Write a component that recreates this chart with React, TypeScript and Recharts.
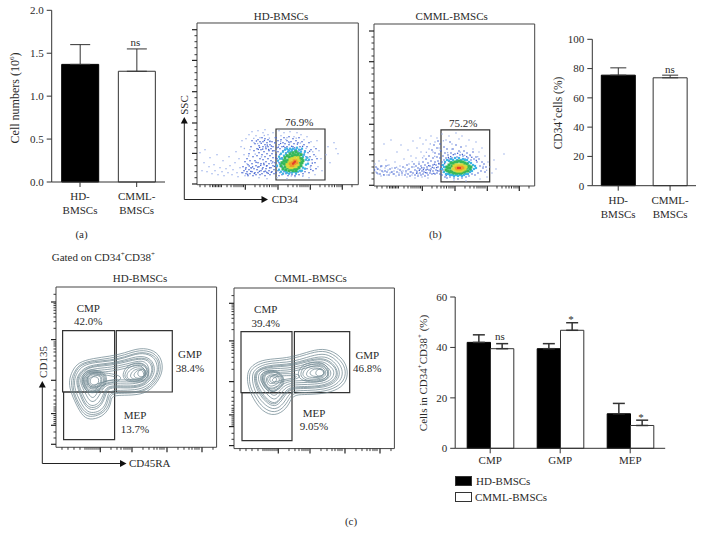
import { Bar, BarChart, Cell, ComposedChart, ErrorBar, Legend, Line, ReferenceArea, Scatter, XAxis, YAxis } from 'recharts';
import type { ReactNode } from 'react';

const FONT = '"Liberation Serif", serif';
const INK = '#2a2a2a';

// bar panels
const cohorts = ['HD-\nBMSCs', 'CMML-\nBMSCs'];
const cellNumbers = [1.37, 1.29];
const cellNumbersErr = [0.23, 0.26];
const cd34Percent = [75.5, 73.7];
const cd34PercentErr = [5, 1.8];
const subsets = ['CMP', 'GMP', 'MEP'];
const hdSubsets = [42, 39.5, 13.7];
const hdSubsetsErr = [3, 2, 4.1];
const cmmlSubsets = [39.5, 46.8, 9.05];
const cmmlSubsetsErr = [2, 3, 2.1];
const legendNames = ['HD-BMSCs', 'CMML-BMSCs'];

// flow axis ticks (channel units, measured from the plot corner)
const ssTicksMajor = [0.7, 31.3, 61.7, 93, 124.3, 155];
const ssTicksMinor = [7, 13, 19, 25, 37, 43, 49, 55, 68, 74, 80, 87, 99, 105, 112, 118, 130, 137, 143, 149];
const cd34TicksMajor = [48.3, 81, 113.3, 145.3];
const cd34TicksMinor = [3, 8, 13, 15.5, 17, 18.5, 20, 21.5, 23, 24.5, 30, 34, 37, 39, 41, 43, 45, 46.5, 58, 63, 67, 70, 72.5, 75, 77, 79, 91, 96, 100, 103, 105, 107, 109, 111, 123, 128, 132, 135, 137.5, 140, 142, 144, 155];
const cd135TicksMajor = [3, 22, 33.7, 67, 107.7, 145.3];
const cd135TicksMinor = [9.3, 15.3, 23.7, 25.7, 27.7, 29.7, 31.7, 36.3, 38.3, 40.3, 43.3, 47.3, 51.3, 57.3, 79.3, 86.3, 91.3, 95.3, 98.3, 101.3, 103.3, 105.3, 119, 125.6, 130.3, 134, 137, 139.5, 141.7, 143.6, 153];
const cd45TicksMajor = [44.3, 76, 111, 146];
const cd45TicksMinor = [6, 12, 18, 24, 29, 31, 33, 35, 37, 39, 41, 43, 55, 61, 65, 68, 70, 72, 74, 87, 93, 98, 101, 104, 106, 108, 122, 128, 133, 136, 139, 141, 143, 157];

type Pt = [number, number];

// HD CD34 dot plot, by density colour
const hdPale: Pt[] = [[3,32],[5,14],[7,22],[8,35],[10,13],[12,18],[13,27],[15,11],[17,20],[18,14],[20,30],[21,10],[23,17],[25,13],[26,24],[27,9],[29,16],[31,12],[32,28],[33,19],[35,10],[36,15],[38,22],[39,33],[40,12],[41,8],[42,26],[43,17],[44,38],[45,44],[47,30],[46,12],[48,9],[49,46],[50,21],[52,50],[53,35],[55,53],[57,42],[59,49],[61,54],[63,47],[66,52],[68,55],[71,50],[73,44],[76,52],[78,47],[82,54],[84,49],[87,52],[90,47],[93,53],[97,48],[100,52],[104,50],[107,45],[110,48],[114,43],[117,38],[120,44],[122,34],[124,26],[121,18],[125,14],[118,10],[112,7],[106,9],[129,30],[131,38],[137,42],[139,36],[141,31],[133,22],[70,6],[62,7],[80,7],[90,6],[98,8],[47.4,36.2],[51.6,28.7],[54.3,16.4],[56.8,46.3],[58.2,30.6],[60.7,41.1],[64.5,27.8],[67.3,49.2],[69.6,12.8],[72.4,46.6],[74.8,21.3],[77.6,41.7],[79.4,33.9],[83.7,43.4],[86.2,24.8],[88.9,45.2],[92.6,41.9],[94.3,8.7],[99.2,46.5],[103.4,41.6],[105.7,8.4],[109.1,36.2],[113.3,17.7],[115.8,32.9],[118.7,28.3]];
const hdBlue: Pt[] = [[45,12],[46,18],[47,14],[48,23],[49,11],[49,17],[50,26],[50,13],[51,9],[51,20],[52,15],[52,31],[53,11],[53,24],[54,17],[54,38],[55,13],[55,21],[55,44],[56,9],[56,28],[57,16],[57,34],[58,12],[58,24],[58,41],[59,19],[59,10],[60,29],[60,36],[60,15],[61,45],[61,22],[61,12],[62,32],[62,18],[62,39],[63,26],[63,10],[63,43],[64,14],[64,35],[64,21],[65,47],[65,30],[65,11],[66,38],[66,17],[66,25],[66,43],[67,13],[67,33],[67,20],[68,40],[68,28],[68,9],[68,46],[69,16],[69,36],[69,23],[70,42],[70,12],[70,31],[70,19],[71,38],[71,26],[71,45],[72,14],[72,34],[72,21],[73,40],[73,10],[73,29],[74,17],[74,36],[74,24],[75,43],[75,13],[75,31],[76,19],[76,38],[76,27],[77,11],[77,34],[77,15],[78,42],[78,22],[79,30],[79,12],[79,47],[80,37],[80,18],[80,26],[81,44],[81,14],[81,33],[82,9],[82,40],[82,22],[83,30],[83,36],[83,12],[84,45],[84,18],[85,38],[85,27],[85,10],[86,42],[86,34],[87,13],[87,47],[88,37],[88,41],[89,11],[89,32],[90,44],[90,38],[91,9],[91,35],[92,48],[92,40],[93,12],[93,36],[94,43],[95,34],[95,10],[96,46],[96,38],[97,41],[98,9],[98,35],[99,44],[99,12],[100,37],[101,42],[101,33],[102,10],[102,47],[103,38],[104,13],[104,35],[105,43],[106,30],[106,11],[107,40],[108,34],[108,13],[109,28],[110,38],[110,16],[111,32],[111,24],[112,42],[112,12],[113,28],[114,35],[114,19],[115,25],[116,14],[117,30],[118,22],[119,36],[119,16],[120,26],[62.6,37.3],[64.2,41.4],[65.7,35.6],[67.4,44.2],[68.8,37.7],[70.3,39.6],[71.7,35.2],[72.9,43.1],[74.4,38.6],[75.6,33.8],[59.4,43.7],[61.3,35.3],[48.6,15.6],[50.7,10.4],[52.2,18.7],[53.8,13.3],[55.6,17.8],[57.3,11.2],[59.1,22.4],[60.8,17.6],[62.4,13.4],[63.7,19.3],[65.3,15.7],[66.8,21.4],[68.2,13.6],[69.5,18.7],[71.2,11.3],[72.6,16.8],[74.3,12.4],[75.8,22.7],[77.4,18.3],[78.7,26.8],[81.4,37.6],[83.6,41.2],[86.7,38.3],[89.4,36.4],[91.8,42.7],[94.6,38.4],[97.7,36.8],[100.4,40.6],[102.8,34.8],[105.6,38.3],[107.4,31.7],[110.7,27.2],[112.6,33.4],[115.3,21.6],[113.8,15.3]];
const hdCyan: Pt[] = [[80,19],[81,24],[82,15],[82,28],[83,21],[84,13],[84,31],[85,26],[85,18],[86,33],[86,11],[87,29],[88,14],[88,35],[89,31],[90,12],[90,36],[91,33],[92,11],[93,36],[94,33],[95,12],[96,36],[97,13],[98,34],[99,11],[100,37],[101,13],[102,35],[103,14],[104,33],[105,14],[105,36],[106,17],[107,30],[108,16],[108,33],[109,20],[110,27],[111,21],[112,25],[83,26],[86,15],[89,13],[92,34],[95,35],[99,35],[103,32],[106,28],[109,25]];
const hdGreen: Pt[] = [[84,19],[85,22],[86,16],[87,24],[88,18],[88,27],[89,15],[90,21],[90,29],[91,17],[92,14],[92,28],[93,31],[94,15],[95,29],[96,14],[96,32],[97,16],[98,30],[99,14],[99,33],[100,16],[101,31],[102,17],[102,28],[103,26],[104,19],[104,30],[105,22],[105,26],[106,24],[103,22],[91,24],[87,21],[89,21],[89,24],[92,19],[92,25],[94,27],[96,27],[98,16],[100,29],[101,17],[103,19],[94,18],[97,29],[100,19],[103,24]];
const hdYellow: Pt[] = [[90,20],[91,18],[92,22],[93,17],[93,25],[94,20],[95,17],[95,26],[96,23],[97,18],[98,27],[99,18],[100,25],[101,20],[102,24],[101,27],[92,20],[94,23],[97,26],[99,20],[100,22]];
const hdOrange: Pt[] = [[93,21],[94,19],[95,22],[96,19],[97,24],[98,21],[99,24],[100,22],[96,20],[98,23]];
const hdRed: Pt[] = [[96,21],[97,22],[98,23]];

// CMML CD34 dot plot
const cmmlPale: Pt[] = [[1,22],[2,14],[3,18],[4,12],[5,25],[6,16],[7,10],[8,20],[9,14],[10,42],[11,18],[12,26],[13,11],[14,16],[15,21],[16,13],[17,46],[18,18],[19,12],[20,15],[21,24],[22,10],[23,34],[24,17],[25,13],[26,20],[27,41],[28,11],[29,15],[30,27],[31,18],[32,13],[33,9],[34,36],[35,22],[36,14],[37,30],[38,11],[39,45],[40,19],[41,8],[42,28],[43,38],[44,12],[45,24],[46,48],[47,34],[48,9],[49,42],[50,30],[52,46],[54,8],[55,37],[57,50],[59,34],[61,44],[63,48],[65,38],[68,52],[72,46],[75,50],[78,42],[82,53],[85,47],[88,50],[92,40],[95,46],[99,37],[102,44],[105,34],[108,38],[111,30],[114,24],[116,19],[118,13],[113,9],[106,7],[92,5],[80,6],[120,26],[122,17],[130,32],[3.4,16.7],[6.8,19.2],[9.6,11.3],[13.7,20.6],[17.2,13.8],[22.6,18.7],[27.4,14.6],[33.8,16.2],[38.2,24.4],[42.7,15.3],[48.6,28.2],[52.4,33.7],[56.3,42.1],[60.7,29.6],[66.2,35.7],[69.4,45.2],[73.6,33.4],[77.8,36.9],[86.3,33.8],[90.7,30.6],[96.4,30.2],[103.7,29.3],[109.2,19.6],[112.6,15.7]];
const cmmlBlue: Pt[] = [[0.5,16],[2,19],[3,13],[4,17],[6,12],[7,20],[8,15],[10,11],[11,15],[12,20],[13,14],[15,11],[16,17],[18,14],[20,12],[21,18],[23,14],[25,11],[26,16],[28,13],[29,19],[31,11],[32,15],[33,21],[34,12],[35,17],[36,10],[37,14],[38,19],[39,13],[40,22],[41,11],[41,16],[42,20],[43,14],[44,10],[44,18],[45,22],[46,13],[46,17],[47,11],[47,20],[48,15],[49,24],[49,12],[50,18],[50,14],[51,21],[51,10],[52,16],[52,27],[53,13],[53,19],[54,23],[54,11],[55,16],[55,30],[56,20],[56,13],[57,25],[57,17],[58,12],[58,36],[59,21],[59,15],[59,28],[60,18],[60,41],[61,12],[61,24],[61,33],[62,16],[62,21],[63,29],[63,13],[63,38],[64,19],[64,25],[64,45],[65,15],[65,32],[65,22],[66,12],[66,28],[66,42],[67,18],[67,35],[68,24],[68,11],[69,30],[69,16],[70,39],[70,26],[71,33],[71,9],[72,28],[73,37],[73,8],[74,31],[75,27],[76,44],[76,9],[77,33],[78,28],[79,37],[80,8],[81,32],[82,41],[83,29],[84,7],[85,35],[86,31],[87,39],[88,8],[89,30],[90,35],[91,27],[92,9],[93,33],[94,28],[95,10],[96,31],[97,26],[98,12],[99,34],[100,27],[101,11],[102,29],[103,24],[104,13],[105,27],[106,20],[107,15],[108,24],[109,18],[110,22],[111,14],[112,19],[42.6,12.7],[45.3,15.6],[47.8,18.2],[49.4,16.3],[51.7,13.4],[53.2,16.8],[54.7,20.4],[56.4,15.1],[58.3,18.7],[59.8,12.6],[60.4,21.7],[62.6,18.4],[63.4,15.2],[64.8,22.6],[66.3,16.7],[67.7,20.8],[69.3,13.7],[70.6,22.3],[72.2,10.4],[74.4,28.6],[76.7,29.4],[79.3,31.3],[83.6,32.7],[88.4,31.6],[92.7,29.3],[97.8,28.7],[102.3,25.6]];
const cmmlCyan: Pt[] = [[68,17],[69,21],[70,14],[71,24],[72,12],[72,19],[73,26],[74,12],[75,25],[76,11],[77,27],[78,11],[79,26],[80,10],[81,28],[82,11],[83,26],[84,10],[85,28],[86,11],[87,26],[88,10],[89,27],[90,11],[91,26],[92,12],[93,26],[94,12],[95,24],[96,14],[97,23],[98,15],[99,21],[100,17],[101,20],[102,18],[70,19],[73,15],[75,13],[77,24],[79,12],[83,12],[87,12],[91,13],[94,23],[97,16]];
const cmmlGreen: Pt[] = [[72,16],[73,19],[74,15],[75,21],[76,14],[76,18],[77,23],[78,14],[79,23],[80,13],[81,24],[82,13],[83,24],[84,13],[85,25],[86,13],[87,24],[88,13],[89,24],[90,14],[91,23],[92,15],[93,22],[94,15],[95,20],[96,17],[97,19],[74,18],[77,15],[78,20],[80,21],[91,16],[93,18],[90,21],[94,19]];
const cmmlYellow: Pt[] = [[79,17],[80,20],[81,16],[82,21],[83,15],[84,21],[85,15],[86,21],[87,15],[88,21],[89,16],[90,20],[91,17],[92,19],[81,19],[83,19],[88,18],[90,18]];
const cmmlOrange: Pt[] = [[82,18],[83,17],[84,19],[85,17],[86,19],[87,17],[88,19],[89,18]];
const cmmlRed: Pt[] = [[84,18],[85,18],[86,18]];

// HD CD135 / CD45RA contours, traced outer to inner
const hdContours: Pt[][] = [
  [[13,67],[16,76],[22,85],[37,89],[54,91],[68,94],[84,100],[99,97],[106,88],[107,75],[100,63],[89,53],[71,52],[60,52],[55,50],[55,43],[49,32],[36,27],[27,30],[20,43],[14,57]],
  [[15,67],[18,75],[24,84],[38,87],[54,89],[68,92],[84,98],[98,95],[104,87],[105,75],[99,64],[88,55],[71,54],[59,54],[54,52],[54,44],[48,34],[36,30],[28,32],[21,44],[16,57]],
  [[17,67],[19,75],[25,83],[38,86],[54,87],[68,90],[84,96],[97,93],[103,86],[103,75],[97,64],[87,56],[71,55],[58,55],[53,53],[52,45],[47,35],[37,32],[29,34],[22,45],[17,57]],
  [[18,67],[21,75],[27,82],[39,85],[54,86],[68,89],[84,95],[96,92],[101,85],[102,75],[96,65],[86,58],[71,57],[58,57],[52,55],[51,46],[46,37],[37,34],[30,36],[24,46],[19,57]],
  [[20,67],[23,74],[29,80],[40,83],[54,84],[68,87],[84,92],[94,89],[98,83],[99,75],[94,66],[85,60],[71,59],[58,60],[51,58],[49,49],[44,40],[37,37],[31,39],[26,47],[22,58]],
  [[21,67],[24,74],[30,79],[40,82],[54,83],[68,86],[84,90],[93,88],[97,82],[97,75],[93,67],[85,61],[71,60],[58,61],[50,59],[48,50],[44,42],[37,39],[31,41],[27,48],[23,58]],
  [[22,67],[25,73],[31,79],[41,81],[55,82],[69,85],[84,89],[92,87],[96,81],[96,75],[92,67],[84,62],[71,61],[58,62],[50,60],[47,52],[43,44],[37,41],[32,43],[28,50],[24,59]],
  [[24,67],[26,72],[32,77],[41,79],[55,80],[70,83],[84,87],[90,85],[93,80],[93,74],[90,68],[83,64],[71,63],[58,64],[49,62],[45,55],[41,48],[37,45],[33,47],[30,53],[26,60]],
  [[25,67],[28,72],[33,76],[42,77],[55,78],[70,81],[83,85],[89,82],[91,78],[91,73],[88,69],[82,66],[71,65],[58,66],[48,64],[43,58],[40,52],[37,49],[34,51],[31,56],[27,62]],
  [[27,67],[29,71],[34,75],[43,75],[56,76],[70,79],[83,83],[87,80],[89,76],[89,72],[86,69],[81,68],[71,67],[58,68],[48,66],[42,61],[39,56],[36,54],[33,56],[30,60]],
  [[30,66],[33,74],[45,75],[60,73],[66,70],[63,66],[52,64],[42,60],[34,60]],
  [[33,66],[37,72],[46,73],[58,71],[62,69],[58,67],[48,66],[41,63],[36,62]],
  [[26,66],[27,74],[33,78],[42,77],[50,74],[51,66],[48,60],[42,55],[34,54],[28,58]],
  [[27,66],[28,73],[34,77],[42,76],[49,73],[50,66],[47,60],[41,56],[34,55],[29,59]],
  [[28,66],[30,73],[35,76],[43,75],[48,72],[49,66],[46,61],[41,57],[35,56],[30,60]],
  [[29,66],[31,72],[36,75],[43,74],[47,71],[48,66],[45,62],[40,58],[35,58],[31,61]],
  [[30,66],[32,72],[37,74],[43,73],[46,70],[46,66],[44,62],[39,59],[35,59],[32,61]],
  [[31,66],[33,71],[37,73],[42,72],[45,70],[45,66],[43,62],[38,60],[34,60]],
  [[32,66],[34,70],[38,71],[42,70],[43,67],[42,63],[38,61],[34,62]],
  [[66,72],[70,81],[80,85],[88,84],[93,78],[93,70],[88,65],[76,65],[69,67]],
  [[68,72],[72,80],[81,83],[88,82],[92,77],[92,70],[87,66],[77,66],[70,68]],
  [[70,72],[74,78],[82,81],[87,80],[90,76],[90,70],[86,67],[78,67],[72,68]],
  [[74,72],[77,77],[83,79],[87,78],[89,75],[89,71],[86,68],[80,68],[75,69]],
  [[77,72],[80,76],[84,78],[87,76],[88,73],[87,70],[84,69],[80,69]],
  [[81,73],[83,77],[87,79],[90,77],[90,73],[88,71],[84,70]],
];

// CMML contours
const cmmlContours: Pt[][] = [
  [[13,72],[15,81],[27,89],[46,90],[59,92],[72,96],[89,101],[104,95],[113,84],[114,71],[108,61],[93,55],[72,54],[62,54],[57,50],[53,40],[41,32],[28,37],[19,50],[14,62]],
  [[15,72],[17,80],[29,87],[46,88],[59,90],[72,94],[89,99],[102,93],[111,83],[112,72],[106,63],[92,57],[72,56],[61,56],[56,52],[51,42],[41,35],[29,40],[21,52],[16,62]],
  [[18,72],[20,79],[31,85],[46,86],[59,87],[72,91],[89,96],[100,91],[108,82],[109,72],[103,64],[91,59],[72,58],[61,58],[55,55],[50,45],[41,38],[31,43],[23,53],[19,63]],
  [[20,72],[22,78],[32,83],[46,84],[59,85],[72,89],[89,93],[98,89],[105,81],[106,72],[100,65],[90,61],[72,60],[61,60],[54,58],[48,48],[41,41],[32,46],[25,55],[21,64]],
  [[21,72],[23,78],[33,82],[46,83],[60,84],[72,88],[88,91],[97,87],[103,80],[104,72],[99,66],[89,62],[72,61],[61,61],[54,59],[47,50],[41,43],[33,47],[26,56],[22,65]],
  [[22,72],[24,78],[33,81],[46,82],[60,83],[73,87],[88,90],[96,86],[102,80],[103,73],[98,67],[89,63],[73,62],[61,62],[53,60],[47,51],[41,44],[33,49],[27,57],[23,65]],
  [[24,72],[26,77],[34,80],[46,80],[60,81],[73,85],[88,88],[94,84],[100,79],[100,73],[96,68],[88,65],[73,64],[61,64],[52,62],[46,54],[41,48],[35,52],[29,59],[25,66]],
  [[26,71],[28,76],[35,78],[46,78],[60,79],[73,83],[87,86],[92,83],[97,78],[97,73],[93,69],[87,67],[73,66],[61,66],[51,64],[45,57],[41,52],[36,55],[31,61],[27,67]],
  [[28,71],[30,75],[36,77],[46,76],[60,77],[73,81],[86,84],[91,81],[94,77],[94,73],[91,70],[86,69],[73,68],[61,68],[50,66],[44,60],[40,56],[36,58],[32,63],[29,67]],
  [[34,68],[38,74],[48,75],[60,75],[68,73],[62,69],[50,68],[41,64]],
  [[37,68],[41,72],[50,73],[60,73],[64,72],[58,70],[48,69],[41,66]],
  [[27,70],[29,77],[37,79],[45,77],[51,70],[49,62],[41,57],[35,57],[29,62]],
  [[28,70],[30,76],[37,78],[45,76],[50,70],[48,63],[41,58],[35,58],[30,63]],
  [[29,70],[31,75],[38,77],[45,75],[49,70],[47,64],[41,60],[36,59],[31,63]],
  [[30,70],[32,75],[38,75],[45,73],[48,69],[46,64],[41,61],[36,60],[32,63]],
  [[32,70],[34,73],[38,74],[44,72],[46,69],[44,65],[40,63],[36,62],[33,65]],
  [[33,70],[35,72],[39,72],[42,71],[43,69],[41,66],[38,65],[35,65]],
  [[63,75],[68,84],[79,87],[89,86],[95,80],[95,71],[89,67],[76,66],[66,69]],
  [[66,75],[70,83],[80,85],[89,84],[94,79],[94,72],[88,68],[77,67],[68,70]],
  [[68,75],[72,81],[80,83],[88,82],[92,78],[92,73],[87,70],[77,69],[70,71]],
  [[72,75],[75,80],[81,81],[88,80],[91,77],[90,73],[86,71],[78,71],[73,72]],
  [[75,75],[78,79],[83,80],[88,79],[90,76],[89,73],[85,72],[79,72]],
  [[81,75],[83,79],[87,80],[90,78],[90,75],[88,73],[84,72]],
];

const DOT_COLORS = ['#9db2ea', '#3f5fd0', '#3fb4e6', '#35b85a', '#d8d83a', '#f09a2a', '#e2402a'];
const DOT_SIZES = [1.3, 1.3, 2.2, 3, 3, 2.6, 2];

const toPoints = (pts: Pt[]) => pts.map(([x, y]) => ({ x, y }));

function Label({ x, y, children, size = 11, rotate, left }: { x: number; y: number; children: ReactNode; size?: number; rotate?: boolean; left?: boolean }) {
  return (
    <div style={{
      position: 'absolute', left: x, top: y, whiteSpace: 'nowrap', fontSize: size, lineHeight: 1, color: INK,
      transform: rotate ? 'translate(-50%, -50%) rotate(-90deg)' : left ? 'translateY(-50%)' : 'translate(-50%, -50%)',
    }}>{children}</div>
  );
}

const Sup = ({ children }: { children: ReactNode }) => <sup style={{ fontSize: 7, lineHeight: 0 }}>{children}</sup>;

function MultiLineTick({ x, y, payload }: any) {
  const lines = String(payload.value).split('\n');
  return (
    <text x={x} y={y} textAnchor="middle" fontSize={11} fontFamily={FONT} fill={INK}>
      {lines.map((line, i) => <tspan key={line} x={x} dy={i === 0 ? 11 : 14}>{line}</tspan>)}
    </text>
  );
}

const axisProps = { stroke: '#333', tickSize: 5, tick: { fontSize: 11, fontFamily: FONT, fill: INK } };

function TwoBarPanel({ box, plot, ticks, domain, values, errs, format }: any) {
  const data = cohorts.map((name, i) => ({ name, value: values[i], err: [0, errs[i]] }));
  return (
    <div style={{ position: 'absolute', left: box.left, top: box.top }}>
      <BarChart width={box.width} height={box.height} data={data} barSize={plot.barSize}
        margin={{ top: plot.top - box.top, left: plot.left - box.left - 40, right: box.left + box.width - plot.right, bottom: box.top + box.height - plot.bottom - 32 }}>
        <XAxis dataKey="name" height={32} interval={0} stroke="#333" tickSize={5} tick={<MultiLineTick />} />
        <YAxis width={40} domain={domain} ticks={ticks} interval={0} tickMargin={3} tickFormatter={format} {...axisProps} />
        <Bar dataKey="value" stroke="#333" isAnimationActive={false}>
          <Cell fill="#000" stroke="#000" />
          <Cell fill="#fff" stroke="#333" />
          <ErrorBar dataKey="err" direction="y" width={plot.cap} stroke="#333" strokeWidth={1} isAnimationActive={false} />
        </Bar>
      </BarChart>
    </div>
  );
}

function SubsetPanel() {
  const data = subsets.map((name, i) => ({
    name, hd: hdSubsets[i], cmml: cmmlSubsets[i], hdErr: [0, hdSubsetsErr[i]], cmmlErr: [0, cmmlSubsetsErr[i]],
  }));
  return (
    <div style={{ position: 'absolute', left: 400, top: 285 }}>
      <BarChart width={270} height={235} data={data} barSize={23.3} barGap={0}
        margin={{ top: 12, left: 15.2, right: 4.8, bottom: 19.7 }}>
        <XAxis dataKey="name" height={20} interval={0} tickMargin={3} {...axisProps} />
        <YAxis width={40} domain={[0, 60]} ticks={[0, 20, 40, 60]} interval={0} tickMargin={3} {...axisProps} />
        <Bar dataKey="hd" fill="#000" stroke="#000" isAnimationActive={false}>
          <ErrorBar dataKey="hdErr" direction="y" width={6} stroke="#333" isAnimationActive={false} />
        </Bar>
        <Bar dataKey="cmml" fill="#fff" stroke="#333" isAnimationActive={false}>
          <ErrorBar dataKey="cmmlErr" direction="y" width={6} stroke="#333" isAnimationActive={false} />
        </Bar>
        <Legend verticalAlign="bottom" layout="horizontal" wrapperStyle={{ left: 55, bottom: 15, width: 200 }}
          content={() => (
            <div style={{ height: 32, width: 200, fontFamily: FONT, fontSize: 11, color: INK }}>
              {legendNames.map((name, i) => (
                <div key={name} style={{ display: 'flex', alignItems: 'center', height: 16 }}>
                  <span style={{ display: 'inline-block', boxSizing: 'border-box', width: 17, height: 10, marginRight: i === 0 ? 4 : 3, background: i === 0 ? '#000' : '#fff', border: '1px solid #333' }} />
                  {name}
                </div>
              ))}
            </div>
          )} />
      </BarChart>
    </div>
  );
}

function FlowTick({ x, y, payload, major, vertical }: any) {
  const isMajor = major.includes(payload.value);
  const len = isMajor ? 5 : 2.5;
  return vertical
    ? <line x1={x} x2={x - len} y1={y} y2={y} stroke="#222" strokeWidth={isMajor ? 1.2 : 0.9} />
    : <line x1={x} x2={x} y1={y} y2={y + len} stroke="#222" strokeWidth={isMajor ? 1.2 : 0.9} />;
}

function FlowPlot({ frame, xTicks, yTicks, gates, dots, contours }: any) {
  const { left, top, width, height } = frame;
  return (
    <div style={{ position: 'absolute', left: left - 10, top: top - 2 }}>
      <ComposedChart width={width + 12} height={height + 12} margin={{ top: 2, right: 2, bottom: 0, left: 0 }}>
        <XAxis dataKey="x" type="number" domain={[0, width]} height={10} allowDataOverflow axisLine={false} tickLine={false} tickSize={0} tickMargin={0} interval={0}
          ticks={[...xTicks.major, ...xTicks.minor]} tick={<FlowTick major={xTicks.major} />} />
        <YAxis dataKey="y" type="number" domain={[0, height]} width={10} allowDataOverflow axisLine={false} tickLine={false} tickSize={0} tickMargin={0} interval={0}
          ticks={[...yTicks.major, ...yTicks.minor]} tick={<FlowTick major={yTicks.major} vertical />} />
        <ReferenceArea x1={0} x2={width} y1={0} y2={height} fill="none" stroke="#444" strokeWidth={1} />
        {dots && dots.map((pts: Pt[], i: number) => (
          <Scatter key={i} data={toPoints(pts)} fill={DOT_COLORS[i]} isAnimationActive={false}
            shape={(p: any) => <rect x={p.cx - DOT_SIZES[i] / 2} y={p.cy - DOT_SIZES[i] / 2} width={DOT_SIZES[i]} height={DOT_SIZES[i]} fill={DOT_COLORS[i]} />} />
        ))}
        {contours && contours.map((pts: Pt[], i: number) => (
          <Line key={i} data={toPoints(pts)} dataKey="y" type="basisClosed" dot={false} stroke="#6f8791" strokeWidth={0.75} isAnimationActive={false} />
        ))}
        {gates.map((g: number[], i: number) => (
          <ReferenceArea key={i} x1={g[0]} x2={g[1]} y1={g[2]} y2={g[3]} fill="none" stroke="#333" strokeWidth={1.2} />
        ))}
      </ComposedChart>
    </div>
  );
}

const ssTicks = { major: ssTicksMajor, minor: ssTicksMinor };
const cd34Ticks = { major: cd34TicksMajor, minor: cd34TicksMinor };
const cd135Ticks = { major: cd135TicksMajor, minor: cd135TicksMinor };
const cd45Ticks = { major: cd45TicksMajor, minor: cd45TicksMinor };

export default function App() {
  return (
    <div style={{ position: 'absolute', left: 0, top: 0, width: 703, height: 545, background: '#fff', overflow: 'hidden', fontFamily: FONT }}>
      <TwoBarPanel box={{ left: 0, top: 0, width: 190, height: 225 }} plot={{ left: 51.7, right: 165, top: 10.3, bottom: 182, barSize: 37, cap: 10 }}
        ticks={[0, 0.5, 1, 1.5, 2]} domain={[0, 2]} values={cellNumbers} errs={cellNumbersErr} format={(v: number) => v.toFixed(1)} />
      <TwoBarPanel box={{ left: 545, top: 25, width: 158, height: 205 }} plot={{ left: 592.3, right: 696, top: 39.3, bottom: 185.7, barSize: 34, cap: 8 }}
        ticks={[0, 20, 40, 60, 80, 100]} domain={[0, 100]} values={cd34Percent} errs={cd34PercentErr} />
      <SubsetPanel />

      <FlowPlot frame={{ left: 196.7, top: 23.3, width: 161.3, height: 161.7 }} xTicks={cd34Ticks} yTicks={ssTicks}
        gates={[[79, 128, 4.7, 55.7]]} dots={[hdPale, hdBlue, hdCyan, hdGreen, hdYellow, hdOrange, hdRed]} />
      <FlowPlot frame={{ left: 374.3, top: 23.5, width: 160.7, height: 162 }} xTicks={cd34Ticks} yTicks={ssTicks}
        gates={[[67, 115.7, 4.2, 56.2]]} dots={[cmmlPale, cmmlBlue, cmmlCyan, cmmlGreen, cmmlYellow, cmmlOrange, cmmlRed]} />
      <FlowPlot frame={{ left: 55.7, top: 286.7, width: 160.6, height: 160.3 }} xTicks={cd45Ticks} yTicks={cd135Ticks}
        gates={[[6.6, 58.6, 55.3, 116.7], [60.3, 116.3, 55.3, 116.7], [7.6, 58.6, 7.7, 55.3]]} contours={hdContours} />
      <FlowPlot frame={{ left: 234.3, top: 287.7, width: 160.4, height: 160.6 }} xTicks={cd45Ticks} yTicks={cd135Ticks}
        gates={[[7, 58, 56, 117], [60.4, 115.7, 56, 117], [8, 58, 8, 56]]} contours={cmmlContours} />

      <svg width={703} height={545} style={{ position: 'absolute', left: 0, top: 0, pointerEvents: 'none' }}>
        <g stroke="#222" strokeWidth={1} fill="none">
          <path d="M184.3 123 V199.5 H262" />
          <path d="M42.3 387 V463.5 H120" />
        </g>
        <g fill="#111">
          <path d="M184.3 117 l-3.5 6.5 h7 z" />
          <path d="M268 199.5 l-6.5 -3.5 v7 z" />
          <path d="M42.3 381 l-3.5 6.5 h7 z" />
          <path d="M126.5 463.5 l-6.5 -3.5 v7 z" />
        </g>
      </svg>

      <Label x={15} y={97.5} size={12} rotate>Cell numbers (10<Sup>6</Sup>)</Label>
      <Label x={135.5} y={42}>ns</Label>
      <Label x={81.5} y={234}>(a)</Label>

      <Label x={281} y={15.7}>HD-BMSCs</Label>
      <Label x={451.7} y={15.7}>CMML-BMSCs</Label>
      <Label x={299.3} y={121.7}>76.9%</Label>
      <Label x={463.3} y={123}>75.2%</Label>
      <Label x={184.3} y={105} rotate>SSC</Label>
      <Label x={271.7} y={199.3} left>CD34</Label>
      <Label x={435.3} y={233.7}>(b)</Label>

      <Label x={559} y={112.5} size={11.5} rotate>CD34<Sup>+</Sup>cells (%)</Label>
      <Label x={670} y={69}>ns</Label>

      <Label x={51.7} y={257.3} left>Gated on CD34<Sup>+</Sup>CD38<Sup>+</Sup></Label>
      <Label x={140} y={278.3}>HD-BMSCs</Label>
      <Label x={310.7} y={278.3}>CMML-BMSCs</Label>
      <Label x={88.3} y={307.7}>CMP</Label>
      <Label x={88.3} y={321}>42.0%</Label>
      <Label x={190} y={354}>GMP</Label>
      <Label x={190} y={367.7}>38.4%</Label>
      <Label x={135} y={415}>MEP</Label>
      <Label x={135} y={429}>13.7%</Label>
      <Label x={265.7} y={309.3}>CMP</Label>
      <Label x={265.7} y={322.7}>39.4%</Label>
      <Label x={367.3} y={355}>GMP</Label>
      <Label x={367.3} y={368.3}>46.8%</Label>
      <Label x={314} y={412.7}>MEP</Label>
      <Label x={314} y={426.3}>9.05%</Label>
      <Label x={42.7} y={361.7} rotate>CD135</Label>
      <Label x={129} y={463.3} left>CD45RA</Label>
      <Label x={351} y={521}>(c)</Label>

      <Label x={423} y={372.5} rotate>Cells in CD34<Sup>+</Sup>CD38<Sup>+</Sup> (%)</Label>
      <Label x={500} y={336}>ns</Label>
      <Label x={571} y={319}>*</Label>
      <Label x={641} y={417}>*</Label>
    </div>
  );
}
